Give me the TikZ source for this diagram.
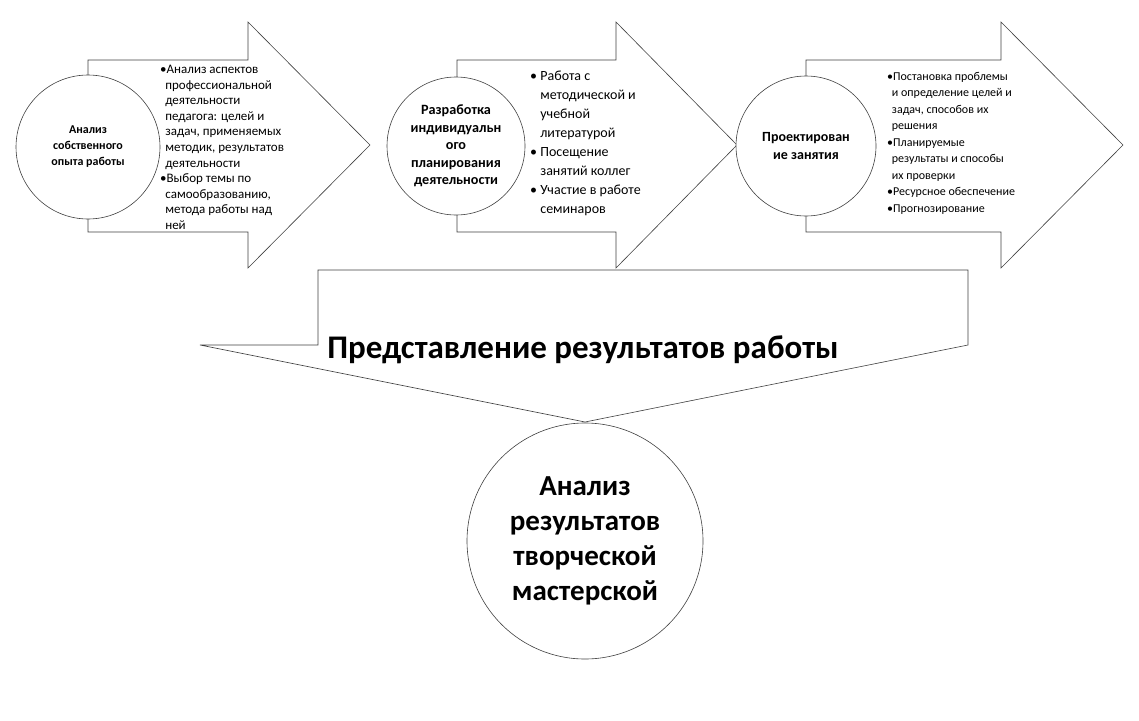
\documentclass[tikz,border=0pt]{standalone}
\usepackage{fontspec}
\setmainfont{Carlito}
\begin{document}
\begin{tikzpicture}[x=1pt,y=-1pt,
  shp/.style={draw=black!75,line width=0.6pt,fill=white},
  circ/.style={shp,circle,inner sep=0pt,align=center,font=\bfseries},
  lst/.style={anchor=north west,align=left,inner sep=0pt}]
\useasboundingbox (0,0) rectangle (1139,720);
% arrows
\foreach \bx/\hx/\tx [count=\i] in {88/248/370,457/616/737,806/1001/1123}{
  \draw[shp] (\bx,60) -- (\hx,60) -- (\hx,22) -- (\tx,145) -- (\hx,268) -- (\hx,232) -- (\bx,232) -- cycle;
}
\node[circ,minimum size=144pt,font=\bfseries\fontsize{12}{16}\selectfont] (c1) at (88,147) {Анализ\\собственного\\опыта работы};
\node[circ,minimum size=138pt,font=\bfseries\fontsize{14.2}{17.6}\selectfont] (c2) at (456,146) {Разработка\\индивидуальн\\ого\\планирования\\деятельности};
\node[circ,minimum size=140pt,font=\bfseries\fontsize{14}{18}\selectfont] (c3) at (806,146) {Проектирован\\ие занятия};
\node[lst,font=\fontsize{13}{15.6}\selectfont] (t1) at (160,65) {•Анализ аспектов\\\ \,профессиональной\\\ \,деятельности\\\ \,педагога: целей и\\\ \,задач, применяемых\\\ \,методик, результатов\\\ \,деятельности\\•Выбор темы по\\\ \,самообразованию,\\\ \,метода работы над\\\ \,ней};
\node[lst,font=\fontsize{14}{19}\selectfont] (t2) at (530,71) {•\ Работа с\\\phantom{•}\ методической и\\\phantom{•}\ учебной\\\phantom{•}\ литературой\\•\ Посещение\\\phantom{•}\ занятий коллег\\•\ Участие в работе\\\phantom{•}\ семинаров};
\node[lst,font=\fontsize{12}{16.5}\selectfont] (t3) at (887,72) {•Постановка проблемы\\\ \,и определение целей и\\\ \,задач, способов их\\\ \,решения\\•Планируемые\\\ \,результаты и способы\\\ \,их проверки\\•Ресурсное обеспечение\\•Прогнозирование};
% bottom shape
\draw[shp] (318,270) -- (968,270) -- (968,345) -- (585,422) -- (200,345) -- (318,345) -- cycle;
\node[font=\bfseries\fontsize{33}{36}\selectfont] (p) at (583,350) {Представление результатов работы};
\node[circ,minimum size=236pt,font=\bfseries\fontsize{29}{35}\selectfont] (c4) at (585,541) {Анализ\\результатов\\творческой\\мастерской};
\end{tikzpicture}
\end{document}
